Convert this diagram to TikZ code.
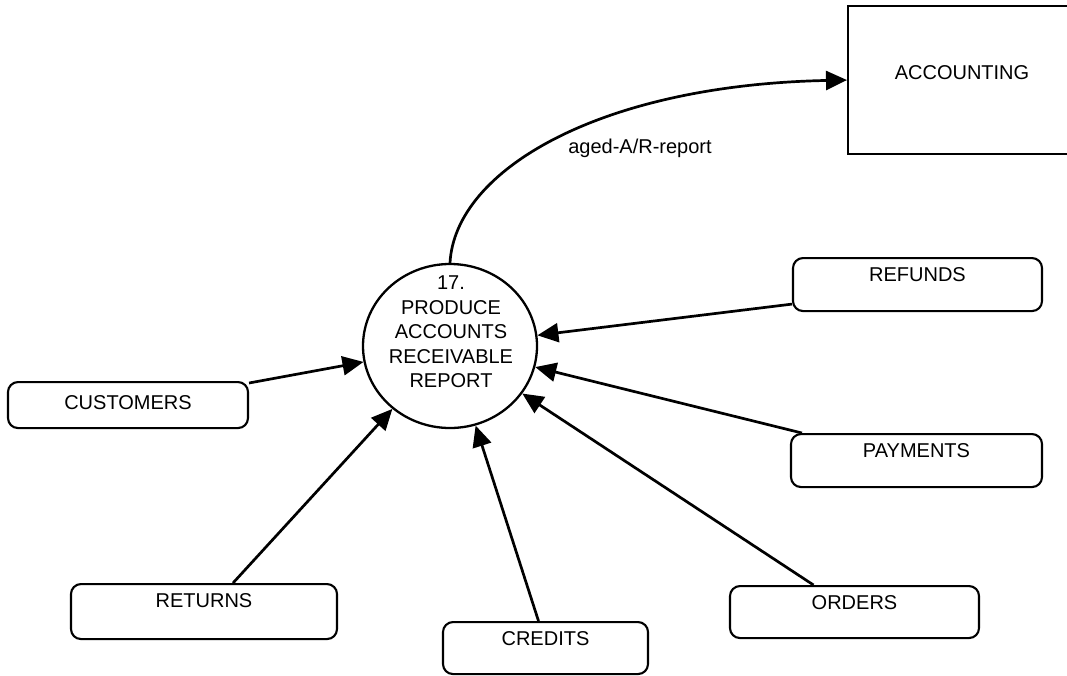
\documentclass[tikz,border=0pt]{standalone}
\usepackage{fontspec}
\setmainfont{Liberation Sans}
\usetikzlibrary{arrows.meta,shapes.geometric,calc}
\begin{document}
\begin{tikzpicture}[x=1pt,y=-1pt,
  txt/.style={font=\fontsize{20}{24.5}\selectfont},
  store/.style={txt, draw, line width=2.1pt, rounded corners=10pt, inner sep=0pt, anchor=north, text height=23pt},
  flow/.style={line width=2.7pt, -{Triangle[length=21pt,width=19pt]}},
]
\useasboundingbox (0,0) rectangle (1067,675);

% process
\node[ellipse, draw, line width=2.3pt, minimum width=174pt, minimum height=164pt, inner sep=0pt] (proc) at (450,346) {};
\node[txt, align=center] (proctext) at (451,332) {17.\\PRODUCE\\ACCOUNTS\\RECEIVABLE\\REPORT};

% external entity
\node[draw, line width=2.1pt, minimum width=330pt, minimum height=148pt, anchor=north west, inner sep=0pt] (acc) at (847,5) {};
\node[txt] (acctext) at (962,73) {ACCOUNTING};

% data stores
\node[store, minimum width=240pt, text height=27pt, text depth=19pt] (cust) at (128,381) {CUSTOMERS};
\node[store, minimum width=249pt, text depth=30pt] (ref) at (917.5,257) {REFUNDS};
\node[store, minimum width=251pt, text depth=30pt] (pay) at (916.5,433) {PAYMENTS};
\node[store, minimum width=249pt, text depth=29pt] (ord) at (854.5,585) {ORDERS};
\node[store, minimum width=266pt, text depth=32pt] (ret) at (204,583) {RETURNS};
\node[store, minimum width=205pt, text depth=29pt] (cred) at (545.5,621) {CREDITS};

% flows
\draw[flow] (proc.north) .. controls (455,170) and (600,85) .. (acc.west);
\node[txt] (lab) at (640,148) {aged-A/R-report};

\draw[flow] ($(cust.north east)+(0,2)$) -- (proc);
\draw[flow] ($(ret.north)+(29,0)$) -- (proc);
\draw[flow] ($(cred.north)+(-7,0)$) -- (proc);
\draw[flow] ($(ord.north)+(-41,0)$) -- (proc);
\draw[flow] ($(pay.north west)+(12,0)$) -- (proc);
\draw[flow] ($(ref.south west)+(0,-8)$) -- (proc);
\end{tikzpicture}
\end{document}
